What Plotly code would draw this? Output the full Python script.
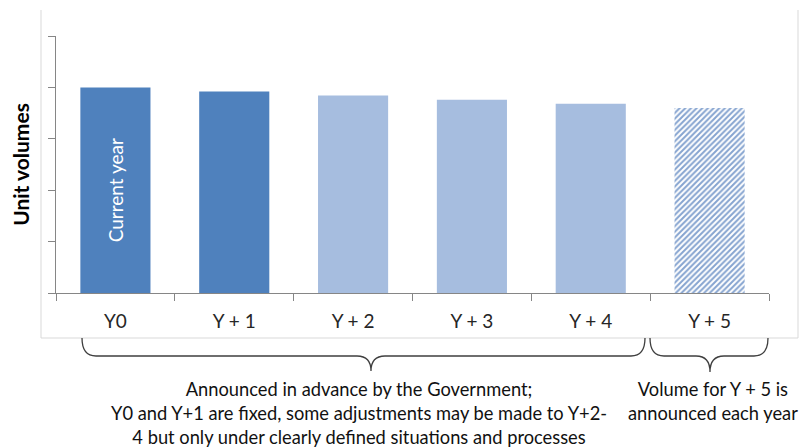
import plotly.graph_objects as go

# ---- data ----
categories = ["Y0", "Y + 1", "Y + 2", "Y + 3", "Y + 4", "Y + 5"]
volumes = [4.0, 3.92, 3.84, 3.76, 3.68, 3.60]
bar_labels = ["Current year", "", "", "", "", ""]
y_title = "Unit volumes"
note_left = ("Announced in advance by the Government;<br>"
             "Y0 and Y+1 are fixed, some adjustments may be made to Y+2-<br>"
             "4 but only under clearly defined situations and processes")
note_right = "Volume for Y + 5 is<br>announced each year"

# ---- styling ----
W, H = 804, 448
ML, MR, MT, MB = 56, 35, 36, 155
PW, PH = W - ML - MR, H - MT - MB
FONT = "Lato, Carlito, Calibri, sans-serif"
AXIS = "#868686"

fg = ["#4F81BD", "#4F81BD", "#A6BDDF", "#A6BDDF", "#A6BDDF", "#86A4D0"]
bg = ["#4F81BD", "#4F81BD", "#A6BDDF", "#A6BDDF", "#A6BDDF", "#FFFFFF"]
shapes_p = ["", "", "", "", "", "/"]


def px(x):
    return (x - ML) / PW


def py(y):
    return (H - MB - y) / PH


fig = go.Figure()
fig.add_trace(go.Bar(
    x=categories, y=volumes,
    marker=dict(color=fg, line=dict(width=0),
                pattern=dict(shape=shapes_p, fgcolor=fg, bgcolor=bg,
                             size=4, solidity=0.5, fillmode="replace")),
    text=bar_labels, textposition="inside", textangle=-90,
    insidetextanchor="middle",
    textfont=dict(color="white", size=19, family=FONT),
    hoverinfo="skip", showlegend=False,
))


def brace(x0, x1, tip, top, mid, bot, r=14):
    X = lambda v: px(v)
    Y = lambda v: py(v)
    return (f"M {X(x0)},{Y(top)} Q {X(x0)},{Y(mid)} {X(x0 + r)},{Y(mid)} "
            f"L {X(tip - r)},{Y(mid)} Q {X(tip)},{Y(mid)} {X(tip)},{Y(bot)} "
            f"Q {X(tip)},{Y(mid)} {X(tip + r)},{Y(mid)} "
            f"L {X(x1 - r)},{Y(mid)} Q {X(x1)},{Y(mid)} {X(x1)},{Y(top)}")


shapes = [
    # light frame around chart
    dict(type="path", xref="paper", yref="paper",
         path=f"M {px(41)},{py(10)} L {px(41)},{py(338)} L {px(798)},{py(338)} L {px(798)},{py(10)}",
         line=dict(color="#D9D9D9", width=1)),
    dict(type="path", xref="paper", yref="paper",
         path=brace(82, 645, 371, 338, 356, 371),
         line=dict(color="#3F3F3F", width=1.3)),
    dict(type="path", xref="paper", yref="paper",
         path=brace(650, 768, 710, 338, 356, 372),
         line=dict(color="#3F3F3F", width=1.3)),
]

annotations = [
    dict(text=note_left, x=px(359), y=py(413), xref="paper", yref="paper",
         xanchor="center", yanchor="middle", showarrow=False, align="center",
         font=dict(size=18.3, color="#111111", family=FONT)),
    dict(text=note_right, x=px(713), y=py(401), xref="paper", yref="paper",
         xanchor="center", yanchor="middle", showarrow=False, align="center",
         font=dict(size=18.3, color="#111111", family=FONT)),
]

fig.update_layout(
    width=W, height=H,
    margin=dict(l=ML, r=MR, t=MT, b=MB, autoexpand=False),
    paper_bgcolor="white", plot_bgcolor="white",
    bargap=0.41,
    shapes=shapes, annotations=annotations,
    font=dict(family=FONT),
    xaxis=dict(type="category", showline=True, linecolor=AXIS, linewidth=1,
               ticks="outside", tickson="boundaries", ticklen=7, tickcolor=AXIS,
               tickfont=dict(size=19, color="#262626", family=FONT),
               ticklabelstandoff=11, showgrid=False, zeroline=False),
    yaxis=dict(range=[0, 5], dtick=1, showline=True, linecolor=AXIS, linewidth=1,
               ticks="outside", ticklen=7, tickcolor=AXIS, showticklabels=False,
               showgrid=False, zeroline=False,
               title=dict(text=f"<b>{y_title}</b>", standoff=12,
                          font=dict(size=21, color="#000000", family=FONT))),
)

fig.write_html("out.html")
